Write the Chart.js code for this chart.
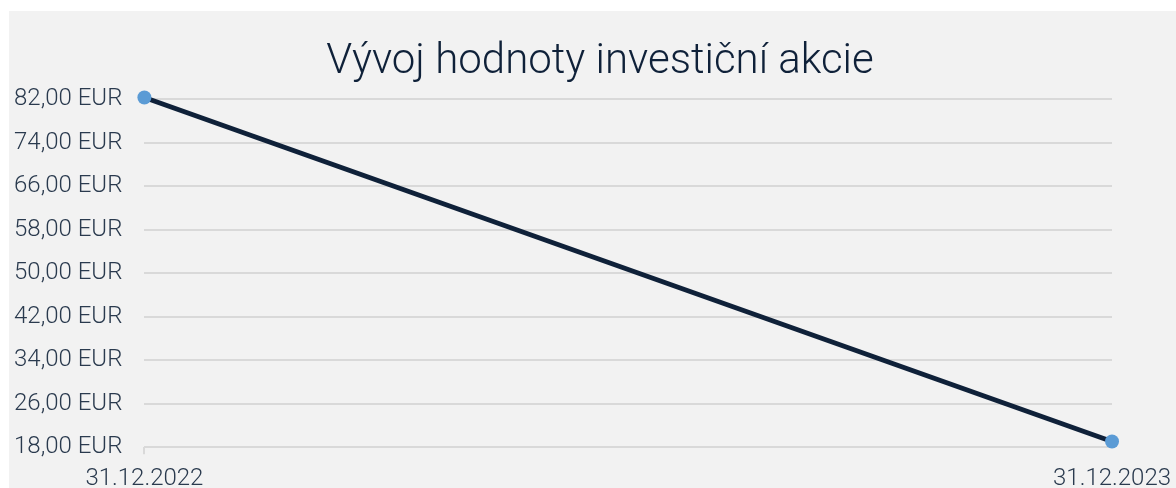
<!DOCTYPE html>
<html>
<head>
<meta charset="utf-8">
<script src="https://cdn.jsdelivr.net/npm/chart.js@4"></script>
<style>
html,body{margin:0;padding:0;background:#ffffff;}
#wrap{position:relative;width:1176px;height:488px;}
</style>
</head>
<body>
<div id="wrap"><canvas id="c" width="1176" height="488"></canvas></div>
<script>
const chartTitle = 'Vývoj hodnoty investiční akcie';
const categories = ['31.12.2022', '31.12.2023'];
const values = [82.35, 19.05];
const yMin = 18, yMax = 82, yStep = 8;

const bgPlugin = {
  id: 'bg',
  beforeDraw(chart) {
    const ctx = chart.ctx;
    ctx.save();
    ctx.fillStyle = '#f2f2f2';
    ctx.fillRect(9, 11, chart.width - 9, chart.height - 11);
    ctx.restore();
  },
  afterLayout(chart) {
    if (chart.titleBlock) {
      chart.titleBlock.left += 10;
    }
  }
};

new Chart(document.getElementById('c'), {
  type: 'line',
  data: {
    labels: categories,
    datasets: [{
      data: values,
      borderColor: '#0f2139',
      borderWidth: 5,
      pointBackgroundColor: '#5b9bd5',
      pointBorderColor: '#5b9bd5',
      pointRadius: 7,
      pointBorderWidth: 0,
      tension: 0,
      clip: false
    }]
  },
  options: {
    responsive: false,
    animation: false,
    devicePixelRatio: 1,
    layout: { padding: { left: 14, right: 0, top: 37, bottom: -15 } },
    plugins: {
      legend: { display: false },
      tooltip: { enabled: false },
      title: {
        display: true,
        text: chartTitle,
        color: '#0f2139',
        font: { family: 'Roboto', size: 42, weight: '300' },
        padding: { top: 0, bottom: 12 }
      }
    },
    scales: {
      x: {
        offset: false,
        afterFit(scale) { scale.paddingRight = Math.max(0, scale.paddingRight - 5); },
        grid: {
          drawOnChartArea: false,
          drawTicks: true,
          tickLength: 7,
          lineWidth: 2,
          tickColor: ctx => ctx.index === 0 ? '#d9d9d9' : 'rgba(0,0,0,0)'
        },
        border: { display: false },
        ticks: {
          color: '#2a3a4e',
          font: { family: 'Roboto', size: 24, weight: '300' },
          padding: 10,
          maxRotation: 0
        }
      },
      y: {
        min: yMin, max: yMax,
        grid: { color: '#d9d9d9', lineWidth: 2, drawTicks: true, tickLength: 22, tickColor: 'rgba(0,0,0,0)' },
        border: { display: false },
        ticks: {
          stepSize: yStep,
          crossAlign: 'far',
          padding: 0,
          color: '#2a3a4e',
          font: { family: 'Roboto', size: 24, weight: '300' },
          callback: v => v.toFixed(2).replace('.', ',') + ' EUR'
        }
      }
    }
  },
  plugins: [bgPlugin]
});
</script>
</body>
</html>
